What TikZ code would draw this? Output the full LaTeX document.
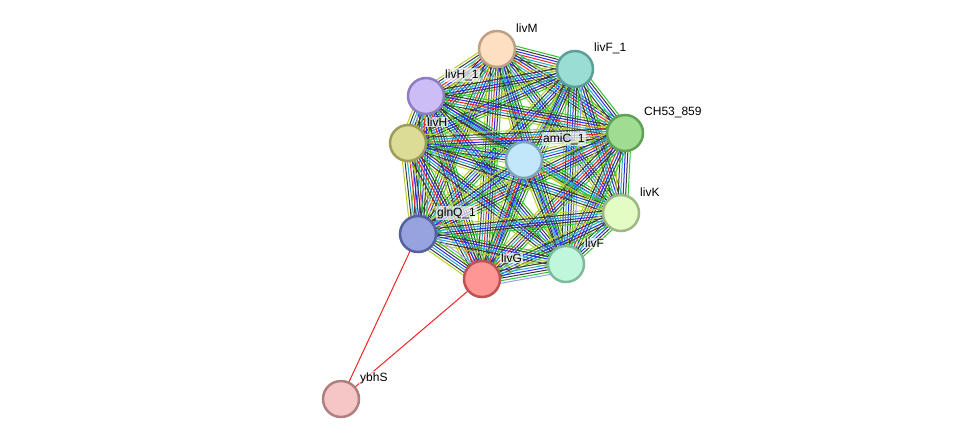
\documentclass[tikz,border=0pt]{standalone}
\usepackage{fontspec}
\setmainfont{Liberation Sans}
\usetikzlibrary{calc}
\pgfdeclarelayer{background}
\pgfsetlayers{background,main}
\definecolor{cT}{HTML}{B8CF2A}
\definecolor{cK}{HTML}{3A3A3A}
\definecolor{cB}{HTML}{2B2BEE}
\definecolor{cG}{HTML}{2EC42E}
\definecolor{cC}{HTML}{2AA8CC}
\definecolor{cR}{HTML}{EE2626}
\definecolor{cL}{HTML}{9C9CFF}
\definecolor{fM}{HTML}{FFDFC2}\definecolor{dM}{HTML}{BFA084}
\definecolor{fF1}{HTML}{9ADDD5}\definecolor{dF1}{HTML}{5C9E98}
\definecolor{fH1}{HTML}{CDBDF7}\definecolor{dH1}{HTML}{8E7DC2}
\definecolor{fCH}{HTML}{A0DD92}\definecolor{dCH}{HTML}{5FA156}
\definecolor{fH}{HTML}{DDDC97}\definecolor{dH}{HTML}{9E9C58}
\definecolor{fA}{HTML}{C3E7FA}\definecolor{dA}{HTML}{7FA3B8}
\definecolor{fK}{HTML}{E3FCC4}\definecolor{dK}{HTML}{9DB884}
\definecolor{fQ}{HTML}{97A3DE}\definecolor{dQ}{HTML}{5560A0}
\definecolor{fF}{HTML}{C0F7DC}\definecolor{dF}{HTML}{7DBB9C}
\definecolor{fG}{HTML}{FF9696}\definecolor{dG}{HTML}{BD5252}
\definecolor{fY}{HTML}{F6C6C6}\definecolor{dY}{HTML}{AE8080}
\tikzset{
  prot/.style={circle, minimum size=36pt, inner sep=0pt, line width=2.5pt, fill=f#1, draw=d#1},
  lab/.style={anchor=west, font=\fontsize{12}{14}\selectfont, fill=white, fill opacity=0.65, text opacity=1, inner sep=1pt},
  edge/.style={line width=1pt}
}
\begin{document}
\begin{tikzpicture}[x=1pt,y=-1pt]
\useasboundingbox (0,0) rectangle (975,445);
% nodes
\node[prot=M] (M) at (497,49) {};
\node[prot=F1] (F1) at (575,69) {};
\node[prot=H1] (H1) at (426,96) {};
\node[prot=CH] (CH) at (625,133) {};
\node[prot=H] (H) at (408,143) {};
\node[prot=A] (A) at (524,160) {};
\node[prot=K] (K) at (621,213) {};
\node[prot=Q] (Q) at (418,234) {};
\node[prot=F] (F) at (566,264) {};
\node[prot=G] (G) at (482,279) {};
\node[prot=Y] (Y) at (341,399) {};
% labels
\node[lab] (lM) at ($(M)+(18,-21)$) {livM};
\node[lab] (lF1) at ($(F1)+(18,-21)$) {livF\_1};
\node[lab] (lH1) at ($(H1)+(18,-21)$) {livH\_1};
\node[lab] (lCH) at ($(CH)+(18,-21)$) {CH53\_859};
\node[lab] (lH) at ($(H)+(18,-21)$) {livH};
\node[lab] (lA) at ($(A)+(18,-21)$) {amiC\_1};
\node[lab] (lK) at ($(K)+(18,-21)$) {livK};
\node[lab] (lQ) at ($(Q)+(18,-21)$) {glnQ\_1};
\node[lab] (lF) at ($(F)+(18,-21)$) {livF};
\node[lab] (lG) at ($(G)+(18,-21)$) {livG};
\node[lab] (lY) at ($(Y)+(18,-21)$) {ybhS};
% edges
\begin{pgfonlayer}{background}
\foreach \a/\b/\n/\cols in {
 M/F1/7/{T,K,C,R,B,K,G}, M/H1/7/{T,K,C,R,B,K,G}, M/CH/7/{T,K,C,R,B,K,G}, M/H/7/{T,K,C,R,B,K,G},
 M/A/5/{T,K,C,B,G}, M/K/6/{T,K,C,B,K,G}, M/Q/7/{T,K,C,R,B,K,G}, M/F/6/{T,K,C,B,K,G}, M/G/7/{T,K,C,R,B,K,G},
 F1/H1/6/{T,K,C,B,K,G}, F1/CH/6/{T,K,C,B,K,G}, F1/H/6/{T,K,C,B,K,G}, F1/A/4/{T,C,B,G},
 F1/K/6/{T,K,C,B,K,G}, F1/Q/6/{T,K,C,B,K,G}, F1/F/7/{T,K,C,B,K,G,L}, F1/G/6/{T,K,C,B,K,G},
 H1/CH/7/{T,K,C,R,B,K,G}, H1/H/7/{T,K,C,B,K,G,L}, H1/A/5/{T,K,C,B,G}, H1/K/6/{T,K,C,B,K,G},
 H1/Q/7/{T,K,C,R,B,K,G}, H1/F/6/{T,K,C,B,K,G}, H1/G/7/{T,K,C,R,B,K,G},
 CH/H/7/{T,K,C,R,B,K,G}, CH/A/5/{T,K,C,B,G}, CH/K/6/{T,K,C,B,K,G}, CH/Q/7/{T,K,C,R,B,K,G},
 CH/F/7/{T,K,C,R,B,K,G}, CH/G/7/{T,K,C,R,B,K,G},
 H/A/5/{T,K,C,B,G}, H/K/6/{T,K,C,B,K,G}, H/Q/7/{T,K,C,R,B,K,G}, H/F/6/{T,K,C,B,K,G}, H/G/7/{T,K,C,R,B,K,G},
 A/K/3/{T,G,C}, A/Q/5/{T,K,C,B,G}, A/F/5/{T,K,C,B,G}, A/G/6/{T,K,C,R,B,G},
 K/Q/6/{T,K,C,B,K,G}, K/F/6/{T,K,C,B,K,G}, K/G/6/{T,K,C,B,K,G},
 Q/F/6/{T,K,C,B,K,G}, Q/G/7/{T,K,C,B,K,G,L}, F/G/7/{T,K,C,B,K,G,L},
 Q/Y/1/{R}, G/Y/1/{R}}
{
  \foreach \c [count=\i] in \cols {
    \pgfmathsetmacro\off{(\i-(\n+1)/2)*2.5}
    \draw[edge, color=c\c] ($(\a.center)!\off pt!90:(\b.center)$) -- ($(\b.center)!\off pt!-90:(\a.center)$);
  }
}
\end{pgfonlayer}
\end{tikzpicture}
\end{document}
